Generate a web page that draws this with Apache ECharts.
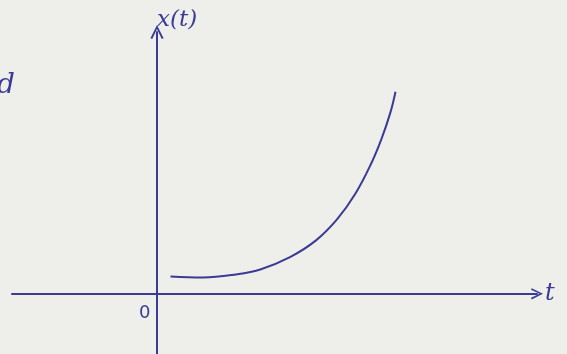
<!DOCTYPE html>
<html>
<head>
<meta charset="utf-8">
<script src="https://cdn.jsdelivr.net/npm/echarts@6/dist/echarts.min.js"></script>
<style>
  html, body { margin: 0; padding: 0; background: #eeeeea; }
  #chart { width: 567px; height: 354px; }
</style>
</head>
<body>
<div id="chart"></div>
<script>
// Growth curve x(t), defined only for t > 0
const tValues = [0.27, 0.92, 1.58, 2.08, 2.66, 3.18, 3.60, 3.96, 4.27, 4.49, 4.67, 4.77];
const xValues = [0.33, 0.31, 0.37, 0.47, 0.70, 1.02, 1.42, 1.90, 2.46, 2.96, 3.47, 3.86];

const ink = '#3b3b96';
const chevron = 'path://M0,10 L5,0 L10,10 L8.6,10.6 L5,3 L1.4,10.6 Z';

const chart = echarts.init(document.getElementById('chart'));
chart.setOption({
  backgroundColor: '#eeeeea',
  animation: false,
  grid: { left: 12, right: 30, top: 32, bottom: 0 },
  xAxis: {
    type: 'value',
    min: -2.9,
    max: 7.6,
    name: 't',
    nameLocation: 'end',
    nameGap: 8,
    nameTextStyle: { color: ink, fontSize: 24, fontFamily: 'DejaVu Serif', fontStyle: 'italic', verticalAlign: 'middle' },
    axisLine: { onZero: true, symbol: ['none', chevron], symbolSize: [16, 12], lineStyle: { color: ink, width: 2 } },
    axisTick: { show: false },
    axisLabel: { show: false },
    splitLine: { show: false }
  },
  yAxis: {
    type: 'value',
    min: -1.15,
    max: 5,
    name: 'x(t)',
    nameLocation: 'end',
    nameGap: 0,
    nameTextStyle: { color: ink, fontSize: 23, fontFamily: 'DejaVu Serif', fontStyle: 'italic', align: 'left', padding: [0, 0, 0, 0] },
    axisLine: { onZero: true, symbol: ['none', chevron], symbolSize: [14, 14], lineStyle: { color: ink, width: 2 } },
    axisTick: { show: false },
    axisLabel: { show: false },
    splitLine: { show: false }
  },
  graphic: [
    { type: 'text', left: 139, top: 304, style: { text: '0', fill: ink, font: '18px "DejaVu Sans"' } },
    { type: 'text', left: -3, top: 72, style: { text: 'd', fill: ink, font: 'italic 28px "DejaVu Serif"' } }
  ],
  series: [{
    type: 'line',
    data: tValues.map((t, i) => [t, xValues[i]]),
    smooth: 0.4,
    showSymbol: false,
    lineStyle: { color: ink, width: 2 }
  }]
});
</script>
</body>
</html>
